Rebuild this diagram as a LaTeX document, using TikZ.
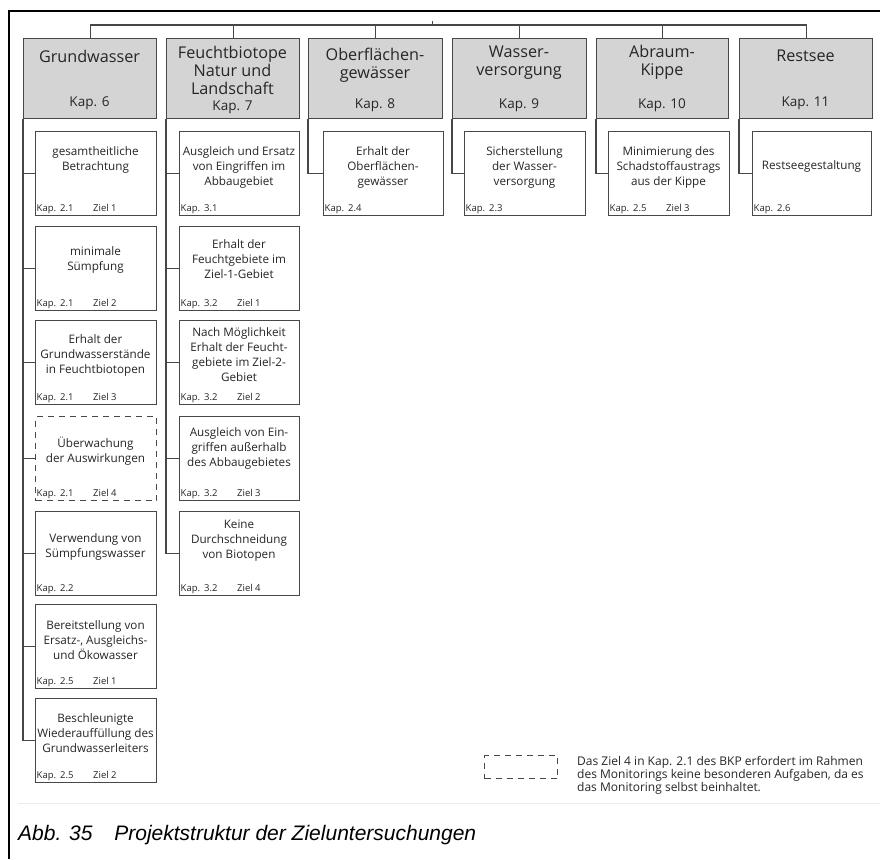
\documentclass[tikz,border=0pt]{standalone}
\usepackage{fontspec}
\setmainfont{Open Sans}
\newfontfamily\capfont{Liberation Sans}
\definecolor{boxline}{gray}{0.28}
\definecolor{hfill}{gray}{0.83}
\definecolor{txt}{gray}{0.15}
\tikzset{
  header/.style={draw=boxline, fill=hfill, line width=1.3pt, minimum height=80pt, inner sep=0pt},
  child/.style={draw=boxline, fill=white, line width=1.2pt, minimum height=84pt, inner sep=0pt},
  dchild/.style={child, dash pattern=on 6pt off 5pt},
  htitle/.style={align=center, inner sep=0pt, text=txt, font=\fontsize{16.2}{18.3}\selectfont},
  hkap/.style={inner sep=0pt, text=txt, font=\fontsize{13.5}{16}\selectfont},
  ctext/.style={align=center, inner sep=0pt, text=txt, font=\fontsize{11.7}{15}\selectfont},
  kap/.style={anchor=base west, inner sep=0pt, text=txt, font=\fontsize{9.5}{11}\selectfont},
  conn/.style={draw=boxline, line width=1.2pt},
  legtext/.style={align=left, inner sep=0pt, text=txt, font=\fontsize{12}{13}\selectfont},
}
\newcommand{\zhead}[7]{%
  \node[header, minimum width=#3pt, anchor=north west] (#1) at (#2,38) {};
  \node[htitle] (#1t) at (#2+#3/2,#4) {#5};
  \node[hkap] (#1k) at (#2+#3/2,#7) {Kap. #6};
}
\newcommand{\zbox}[9]{%
  \node[#9, minimum width=#4pt, anchor=north west] (#1) at (#2,#3) {};
  \node[ctext] (#1t) at (#2+#4/2,#5) {#6};
  \node[kap] (#1k) at (#2+1.5,#3+80) {Kap.\hspace{4pt}#7};
  \if\relax\detokenize{#8}\relax\else
  \node[kap] (#1z) at (#2+58,#3+80) {#8};
  \fi
}
\begin{document}
\begin{tikzpicture}[x=1pt, y=-1pt]
\useasboundingbox (0,0) rectangle (880,859);
\fill[white] (0,0) rectangle (880,859);
% frame
\draw[black, line width=2pt] (9,859) -- (9,11) -- (880,11);
\draw[gray!15, line width=0.8pt] (18,803) -- (880,803);
% headers
\zhead{h1}{23}{133}{56}{Grundwasser}{6}{103}
\zhead{h2}{166}{133}{70.5}{Feuchtbiotope\\Natur und\\Landschaft}{7}{107}
\zhead{h3}{308}{134}{65}{Oberflächen-\\gewässer}{8}{105}
\zhead{h4}{452}{134}{63}{Wasser-\\versorgung}{9}{105}
\zhead{h5}{596}{132}{62.5}{Abraum-\\Kippe}{10}{105}
\zhead{h6}{739}{133}{56}{Restsee}{11}{103}
% bus
\coordinate (bus) at (0,25);
\coordinate (tick) at (432,21);
\draw[conn] (h1.north) |- (bus -| h6.north) -- (h6.north);
\foreach \h in {h2,h3,h4,h5} \draw[conn] (\h.north) -- (\h.north |- bus);
\draw[conn, line width=0.8pt] (tick) -- (tick |- bus);
% column 1
\zbox{c11}{35}{131}{121}{160}{gesamtheitliche\\Betrachtung}{2.1}{Ziel 1}{child}
\zbox{c12}{35}{226}{121}{260}{minimale\\Sümpfung}{2.1}{Ziel 2}{child}
\zbox{c13}{35}{320}{121}{355}{Erhalt der\\Grundwasserstände\\in Feuchtbiotopen}{2.1}{Ziel 3}{child}
\zbox{c14}{35}{416}{121}{451}{Überwachung\\der Auswirkungen}{2.1}{Ziel 4}{dchild}
\zbox{c15}{35}{511}{121}{547}{Verwendung von\\Sümpfungswasser}{2.2}{}{child}
\zbox{c16}{35}{604}{121}{640}{Bereitstellung von\\Ersatz-, Ausgleichs-\\und Ökowasser}{2.5}{Ziel 1}{child}
\zbox{c17}{35}{698}{121}{733}{Beschleunigte\\Wiederauffüllung des\\Grundwasserleiters}{2.5}{Ziel 2}{child}
% column 2
\zbox{c21}{179}{131}{120}{167}{Ausgleich und Ersatz\\von Eingriffen im\\Abbaugebiet}{3.1}{}{child}
\zbox{c22}{179}{226}{120}{259}{Erhalt der\\Feuchtgebiete im\\Ziel-1-Gebiet}{3.2}{Ziel 1}{child}
\zbox{c23}{179}{320}{120}{354.5}{Nach Möglichkeit\\Erhalt der Feucht-\\gebiete im Ziel-2-\\Gebiet}{3.2}{Ziel 2}{child}
\zbox{c24}{179}{416}{120}{448}{Ausgleich von Ein-\\griffen außerhalb\\des Abbaugebietes}{3.2}{Ziel 3}{child}
\zbox{c25}{179}{511}{120}{541}{Keine\\Durchschneidung\\von Biotopen}{3.2}{Ziel 4}{child}
% columns 3-6
\zbox{c31}{323}{131}{120}{167}{Erhalt der\\Oberflächen-\\gewässer}{2.4}{}{child}
\zbox{c41}{464}{131}{121}{167}{Sicherstellung\\der Wasser-\\versorgung}{2.3}{}{child}
\zbox{c51}{608}{131}{121}{167}{Minimierung des\\Schadstoffaustrags\\aus der Kippe}{2.5}{Ziel 3}{child}
\zbox{c61}{752}{131}{119}{166}{Restseegestaltung}{2.6}{}{child}
% connectors
\draw[conn] (h1.south west) |- (c17.west);
\foreach \c in {c11,c12,c13,c14,c15,c16} \draw[conn] (h1.south west |- \c.west) -- (\c.west);
\draw[conn] (h2.south west) |- (c25.west);
\foreach \c in {c21,c22,c23,c24} \draw[conn] (h2.south west |- \c.west) -- (\c.west);
\draw[conn] (h3.south west) |- (c31.west);
\draw[conn] (h4.south west) |- (c41.west);
\draw[conn] (h5.south west) |- (c51.west);
\draw[conn] (h6.south west) |- (c61.west);
% legend
\node[draw=boxline, line width=1.2pt, dash pattern=on 6pt off 5pt, minimum width=73pt, minimum height=23pt, inner sep=0pt, anchor=north west] (lg) at (484,755) {};
\node[legtext, anchor=west] (lgt) at (577,775) {Das Ziel 4 in Kap. 2.1 des BKP erfordert im Rahmen\\des Monitorings keine besonderen Aufgaben, da es\\das Monitoring selbst beinhaltet.};
% caption
\node[anchor=base west, inner sep=0pt, font=\capfont\itshape\fontsize{21}{25}\selectfont] (cap) at (18,840) {Abb. 35\hspace{1.04em}Projektstruktur der Zieluntersuchungen};
\end{tikzpicture}
\end{document}
